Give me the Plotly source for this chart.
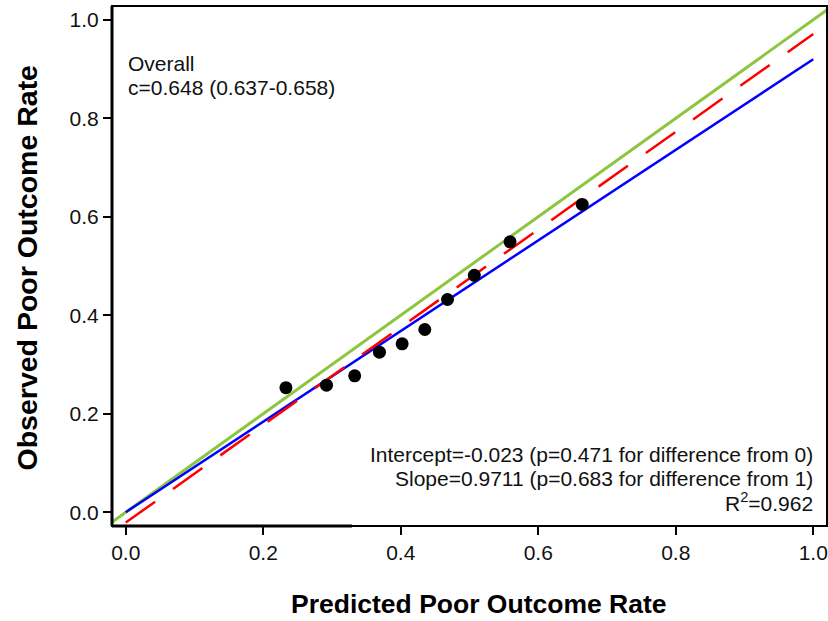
import plotly.graph_objects as go

# Observed vs predicted points
pred = [0.233, 0.292, 0.333, 0.369, 0.402, 0.435, 0.468, 0.507, 0.559, 0.664]
obs = [0.253, 0.258, 0.277, 0.325, 0.342, 0.371, 0.432, 0.481, 0.549, 0.625]

# Reference / fitted lines (endpoints)
ident_x = [-0.05, 1.05]
ident_y = [-0.05, 1.05]
fit_x = [0.0, 1.0]
fit_blue_y = [0.0, 0.92]
fit_red_y = [-0.021, 0.971]

tick_vals = [0.0, 0.2, 0.4, 0.6, 0.8, 1.0]
tick_text = ["0.0", "0.2", "0.4", "0.6", "0.8", "1.0"]

x_title = "Predicted Poor Outcome Rate"
y_title = "Observed Poor Outcome Rate"
top_left_lines = ["Overall", "c=0.648 (0.637-0.658)"]
bottom_right_lines = ["Intercept=-0.023 (p=0.471 for difference from 0)",
                      "Slope=0.9711 (p=0.683 for difference from 1)",
                      "R<sup>2</sup>=0.962"]

FONT = "Liberation Sans, Arial, sans-serif"

fig = go.Figure()
fig.add_trace(go.Scatter(x=ident_x, y=ident_y, mode="lines",
                         line=dict(color="#8CC63F", width=3), showlegend=False))
fig.add_trace(go.Scatter(x=fit_x, y=fit_blue_y, mode="lines",
                         line=dict(color="#0000FF", width=2.5), showlegend=False))
fig.add_trace(go.Scatter(x=fit_x, y=fit_red_y, mode="lines",
                         line=dict(color="#FF0000", width=2.5, dash="36px,22px"), showlegend=False))
fig.add_trace(go.Scatter(x=pred, y=obs, mode="markers",
                         marker=dict(color="black", size=13), showlegend=False))

axis_common = dict(showgrid=False, zeroline=False, showline=False,
                   ticks="outside", ticklen=8, tickwidth=2, tickcolor="black",
                   tickvals=tick_vals, ticktext=tick_text,
                   tickfont=dict(family=FONT, size=21, color="#111"))

fig.update_xaxes(range=[-0.02, 1.02], **axis_common)
fig.update_yaxes(range=[-0.028, 1.028], **axis_common)

# frame
fig.add_shape(type="rect", xref="paper", yref="paper", x0=0, y0=0, x1=1, y1=1,
              line=dict(color="black", width=2))
fig.add_shape(type="line", xref="paper", yref="paper", x0=0, y0=0, x1=0, y1=1,
              line=dict(color="black", width=3))
fig.add_shape(type="line", xref="x", yref="paper", x0=-0.02, y0=0, x1=0.329, y1=0,
              line=dict(color="black", width=3))

# axis titles
fig.add_annotation(xref="paper", yref="paper", x=0.513, y=-0.15,
                   xanchor="center", yanchor="middle", text="<b>" + x_title + "</b>",
                   showarrow=False, font=dict(family=FONT, size=26.5, color="black"))
fig.add_annotation(xref="paper", yref="paper", x=-0.119, y=0.497, textangle=-90,
                   xanchor="center", yanchor="middle", text="<b>" + y_title + "</b>",
                   showarrow=False, font=dict(family=FONT, size=28.5, color="black"))

for i, t in enumerate(top_left_lines):
    fig.add_annotation(xref="x", yref="y", x=0.0, y=0.912 - i * 0.05,
                       xanchor="left", yanchor="middle", text=t, showarrow=False,
                       font=dict(family=FONT, size=21, color="#111"))
for i, t in enumerate(bottom_right_lines):
    fig.add_annotation(xref="x", yref="y", x=1.003, y=0.118 - i * 0.049,
                       xanchor="right", yanchor="middle", text=t, showarrow=False,
                       font=dict(family=FONT, size=21, color="#111"))

fig.update_layout(width=828, height=621, margin=dict(l=112, r=1, t=6, b=95),
                  plot_bgcolor="white", paper_bgcolor="white")

fig.write_html("out.html")
